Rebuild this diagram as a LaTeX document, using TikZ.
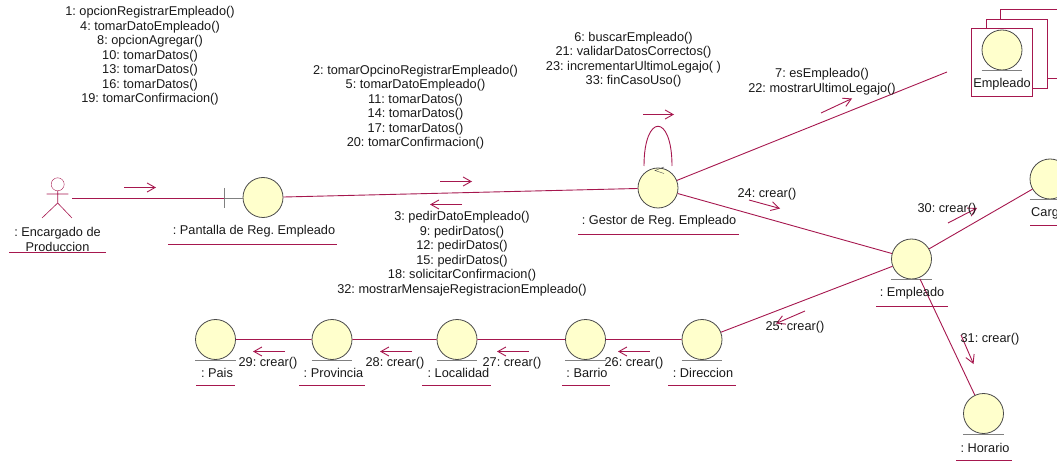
\documentclass[tikz,border=0pt]{standalone}
\usepackage{fontspec}
\setmainfont{Liberation Sans}
\frenchspacing
\usetikzlibrary{arrows.meta}
\definecolor{linkred}{HTML}{A6174E}
\definecolor{robotfill}{HTML}{FFFFCC}
\definecolor{robotline}{HTML}{4A4A4A}
\tikzset{
x=1pt, y=-1pt, % one unit is one pixel of the reference, y runs downwards
>={Straight Barb[length=8pt,width=9pt]}, % open arrow heads
every node/.style={font=\fontsize{12.75}{14.5}\selectfont, text=black!90, inner sep=0pt},
robot/.style={circle, draw=robotline, fill=robotfill, thick, minimum size=40pt}, % the round objects
link/.style={draw=linkred, line width=0.9pt}, % lines between the objects
msg/.style={link, ->}, % small message arrows
baseline line/.style={draw=robotline!70, thick}, % line below a round object
name line/.style={draw=linkred, line width=1pt}, % line below an object name
sheet/.style={draw=linkred, line width=1pt, fill=white}, % the stacked sheets
}
\begin{document}
\begin{tikzpicture}
                \useasboundingbox (0,0) rectangle (1057,462);
                \clip (0,0) rectangle (1057,462);

                \draw[sheet] (1000,79) rectangle (1070,10);
                \draw[sheet] (986,89) rectangle (1047,20);
                \draw[sheet] (971.5,97) rectangle (1032.5,29);

                \foreach \nm/\xx/\yy in {pantalla/263/197.5, gestor/658/188, stock/1002/50, empleado/911.5/259,
                    cargo/1050/179, horario/983.5/413.5, direccion/702/339.5, barrio/585.5/339.5,
                    localidad/457/339.5, provincia/332/339.5, pais/215.5/339.5}{
                    \node[robot] (\nm) at (\xx,\yy) {};
                }
                \foreach \nm in {stock, empleado, cargo, horario, direccion, barrio, localidad, provincia, pais}{
                    \draw[baseline line] (\nm.west |- \nm.south) -- (\nm.east |- \nm.south);
                }

                \node[circle, draw=linkred, minimum size=13pt] (encargado) at (57.7,184.3) {};
                \coordinate (encargadoHand) at (72,198.5);
                \coordinate (pantallaBar) at (224,198.5);
                \coordinate (stockEnd) at (947,72);
                \coordinate (empleadoFoot) at (920,279);
                \coordinate (loopLeft) at (644,166);
                \coordinate (loopRight) at (672,166);

                \draw[link, semithick] (encargado.south) -- (57.7,203) (46.7,194) -- (68.3,194)
                    (42,218) -- (57.7,203) -- (72,218);
                \draw[baseline line] (pantallaBar |- 0,188) -- (pantallaBar |- 0,208);
                \draw[baseline line] (pantallaBar) -- (pantalla.west |- pantallaBar);

                \draw[link]
                    (encargadoHand) -- (pantallaBar)
                    (pantalla) -- (gestor)
                    (gestor) -- (stockEnd)
                    (gestor) -- (empleado)
                    (empleado) -- (cargo)
                    (empleado) -- (direccion)
                    (empleadoFoot) -- (horario)
                    (direccion) -- (barrio)
                    (barrio) -- (localidad)
                    (localidad) -- (provincia)
                    (provincia) -- (pais)
                    ;
                \draw[link] (loopLeft) .. controls (644,113) and (672,113) .. (loopRight);
                \draw[draw=robotline] (664,167) -- (655,170.5) -- (664,173.5);

                \foreach \nm/\xa/\ya/\xb/\yb in {a/124/187.5/156/187.5, b/440/181.5/472/181.5, c/462/204.5/430/204.5,
                    d/643/114.5/674/114.5, e/821/113/852/98.5, f/749/200/780/208.5, g/948/223/977/208,
                    h/805/311/776/323.5, i/961/335/973.5/364, j/650/351.5/618/351.5, k/529/351.5/497/351.5,
                    l/412/351.5/380/351.5, m/285/351.5/253/351.5}{
                    \coordinate (\nm From) at (\xa,\ya);
                    \coordinate (\nm To) at (\xb,\yb);
                    \draw[msg] (\nm From) -- (\nm To);
                }

                \foreach \nm/\xa/\xb/\yy in {encargado/9/106/253, pantalla/168/337/244.5, gestor/578/739/235,
                    empleado/876/948/306, cargo/1030/1057/226, horario/956/1012/460, direccion/668/736/385.5,
                    barrio/562/610/385.5, localidad/422/491/385.5, provincia/299/365/385.5, pais/196/235/385.5}{
                    \coordinate (\nm Left) at (\xa,\yy);
                    \coordinate (\nm Right) at (\xb,\yy);
                    \draw[name line] (\nm Left) -- (\nm Right);
                }

                \node[align=center] (encargadoName) at (57.5,239.5) {: Encargado de\\Produccion};
                \node (pantallaName) at (254,231.5) {: Pantalla de Reg. Empleado};
                \node (gestorName) at (659,221.5) {: Gestor de Reg. Empleado};
                \node (stockName) at (1002,84.5) {Empleado};
                \node (empleadoName) at (912,293.5) {: Empleado};
                \node[anchor=west] (cargoName) at (1031,213.5) {Carg};
                \node (horarioName) at (985,447.5) {: Horario};
                \node (direccionName) at (703,372.5) {: Direccion};
                \node (barrioName) at (587,372.5) {: Barrio};
                \node (localidadName) at (458.5,372.5) {: Localidad};
                \node (provinciaName) at (333.5,372.5) {: Provincia};
                \node (paisName) at (217,372.5) {: Pais};

                \node[align=center] (msgPantalla) at (150,56) {1: opcionRegistrarEmpleado()\\4: tomarDatoEmpleado()\\8: opcionAgregar()\\10: tomarDatos()\\13: tomarDatos()\\16: tomarDatos()\\19: tomarConfirmacion()};
                \node[align=center] (msgGestor) at (415.5,107) {2: tomarOpcinoRegistrarEmpleado()\\5: tomarDatoEmpleado()\\11: tomarDatos()\\14: tomarDatos()\\17: tomarDatos()\\20: tomarConfirmacion()};
                \node[align=center] (msgLoop) at (633.5,59.5) {6: buscarEmpleado()\\21: validarDatosCorrectos()\\23: incrementarUltimoLegajo( )\\33: finCasoUso()};
                \node[align=center] (msgStock) at (822,81.5) {7: esEmpleado()\\22: mostrarUltimoLegajo()};
                \node[align=center] (msgBack) at (462,253.5) {3: pedirDatoEmpleado()\\9: pedirDatos()\\12: pedirDatos()\\15: pedirDatos()\\18: solicitarConfirmacion()\\32: mostrarMensajeRegistracionEmpleado()};
                \node (msg24) at (767,194.5) {24: crear()};
                \node (msg25) at (795,327.5) {25: crear()};
                \node (msg26) at (634,363.5) {26: crear()};
                \node (msg27) at (512,363.5) {27: crear()};
                \node (msg28) at (395,363.5) {28: crear()};
                \node (msg29) at (268,363.5) {29: crear()};
                \node (msg30) at (947,209.5) {30: crear()};
                \node (msg31) at (990,339.5) {31: crear()};
\end{tikzpicture}
\end{document}
